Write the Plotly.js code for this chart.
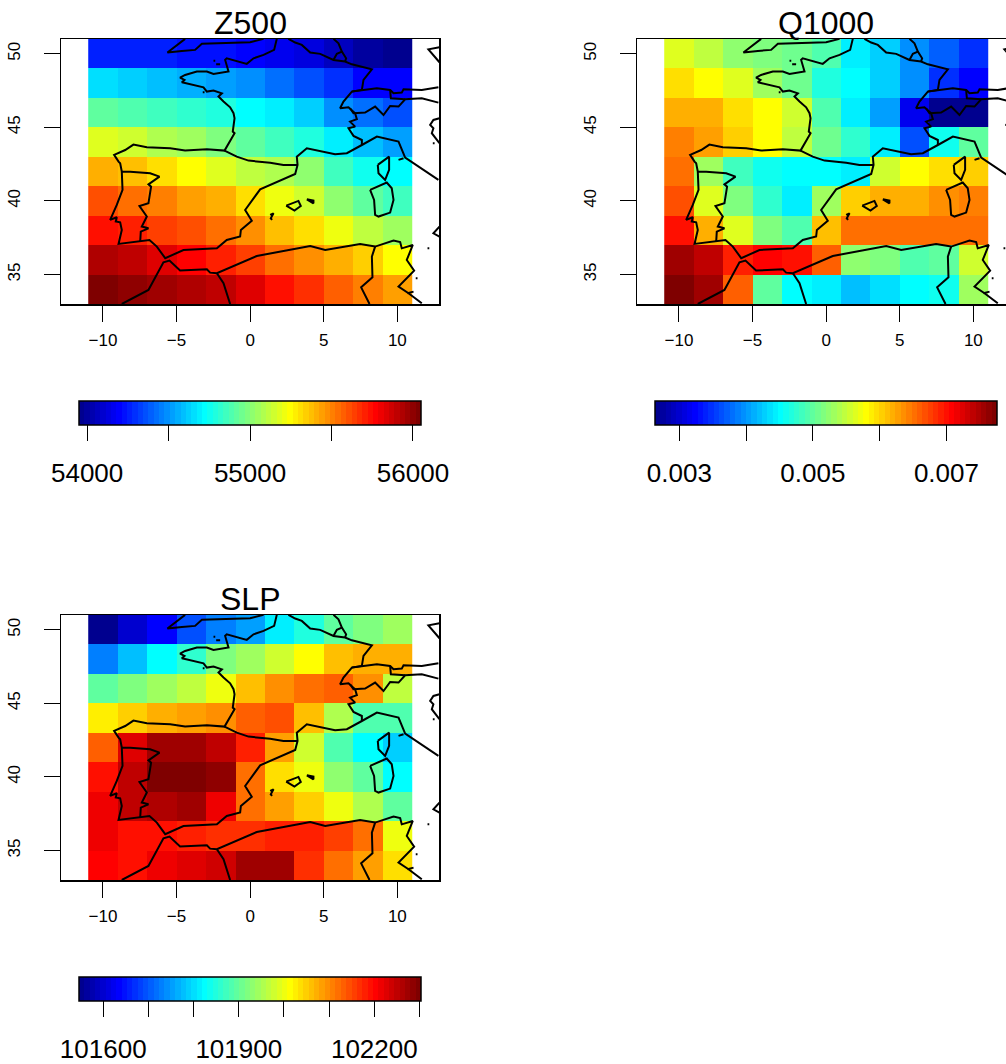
<!DOCTYPE html>
<html><head><meta charset="utf-8">
<script src="https://cdn.plot.ly/plotly-3.0.1.min.js"></script>
<style>html,body{margin:0;padding:0;background:#fff;overflow:hidden;width:1006px;height:1064px}#wrap{width:1006px;height:1064px;overflow:hidden}</style>
</head><body><div id="wrap"><div id="chart"></div></div>
<script>
const lons=[-10,-8,-6,-4,-2,0,2,4,6,8,10];
const lats=[50,48,46,44,42,40,38,36,34];
const z500=[
[54267,54267,54267,54246,54225,54183,54162,54141,54078,54015,53973],
[54645,54624,54582,54561,54519,54477,54414,54372,54288,54193,54193],
[54918,54886,54855,54823,54792,54722,54676,54624,54498,54435,54372],
[55184,55159,55096,55064,54981,54918,54855,54792,54697,54603,54529],
[55411,55379,55327,55247,55184,55127,55085,55012,54855,54760,54722],
[55610,55547,55505,55453,55400,55316,55211,55159,55033,54918,54855],
[55736,55694,55642,55610,55547,55463,55379,55316,55211,55127,55064],
[55946,55910,55841,55772,55694,55642,55547,55484,55411,55337,55247],
[56051,56009,55980,55925,55915,55841,55736,55673,55579,55526,55453]];
const q1000=[
[.005642,.005453,.005273,.005145,.005094,.004915,.004428,.004275,.003967,.003711,.003455],
[.005990,.005796,.005642,.005350,.005094,.004684,.004515,.004275,.003967,.003455,.003225],
[.006221,.006170,.005990,.005796,.005555,.004915,.004454,.004044,.003148,.002687,.002662],
[.006426,.006297,.006067,.005796,.005504,.005094,.004761,.004403,.003635,.004582,.004992],
[.006528,.005350,.004838,.004608,.004515,.004515,.004403,.005555,.005796,.005990,.006016],
[.006682,.005642,.005145,.004761,.004454,.005350,.006041,.006170,.006170,.006374,.006400],
[.006989,.006195,.005642,.005145,.004915,.006144,.006528,.006528,.006528,.006477,.006477],
[.007583,.007373,.006886,.007076,.006989,.006605,.005273,.005145,.004915,.004992,.005581],
[.007757,.007578,.006579,.004992,.004515,.004403,.004172,.004326,.004515,.004633,.005350]];
const slp=[
[101555,101600,101634,101695,101729,101755,101816,101850,101895,101918,101948],
[101729,101782,101825,101861,101918,101948,101979,102014,102066,102073,102077],
[101895,101918,101948,101971,102001,102066,102100,102115,102134,102100,101971],
[102024,102054,102077,102088,102100,102134,102145,102066,101960,101884,101884],
[102134,102228,102278,102278,102255,102175,102088,101979,101884,101825,101789],
[102190,102255,102304,102300,102285,102115,102043,102001,101937,101895,101825],
[102213,102255,102266,102270,102213,102122,102088,102050,102001,101960,101895],
[102221,102190,102190,102183,102168,102168,102183,102183,102156,102115,102001],
[102203,102190,102221,102228,102240,102278,102278,102168,102115,102088,102043]];
const coastLon=[-4.42,-4.98,-5.62,-4.64,-3.74,-3.28,-1.59,-1.02,0,0.91,null,
1.81,1.63,0.91,0.23,-0.23,-1.59,-1.70,-1.47,-2.49,-2.94,-3.62,-4.42,-4.76,-4.46,-4.64,-3.85,-3.17,-2.94,-2.49,-1.92,-2.15,-1.81,-1.36,-1.13,-1.06,-1.18,-1.06,-1.74,-2.94,-4.42,-5.43,-7.02,-7.93,-8.49,-9.24,-8.94,-8.83,-8.72,-8.67,-9.06,-9.51,-9.06,-9.13,-8.83,-8.72,-8.94,-7.47,-6.84,-6.34,-5.77,-4.53,-2.26,-1.59,-0.68,-0.63,0.11,-0.34,0.68,3.06,3.22,3.17,3.85,5.77,6.57,7.59,8.61,10.08,10.53,12.79,null,
-1.74,-0.91,-0.11,1.36,2.26,3.22,null,
-8.72,-8.15,-6.79,-6.16,-6.91,-6.73,-6.91,-7.52,-7.02,-7.36,-6.91,-7.43,-7.47,null,
-8.72,-6.91,-5.89,-5.48,-4.76,-2.94,-2.72,-2.26,0.45,4.08,5.10,7.47,8.49,9.74,10.19,10.30,11.05,10.64,11.14,10.08,10.76,11.66,null,
-2.26,-1.81,-1.36,null,
8.49,8.27,8.31,7.54,8.11,null,
2.60,3.06,3.51,4.08,4.76,5.66,6.45,6.91,8.27,7.70,7.59,6.91,6.34,6.11,6.68,7.13,7.25,6.79,7.13,6.68,7.02,7.59,7.59,null,
5.66,6.00,6.23,6.52,6.45,null,
6.23,5.89,5.66,null,
6.91,8.61,9.51,9.74,10.30,10.42,11.66,12.79,null,
6.79,7.02,7.81,8.49,9.06,9.51,10.08,10.53,11.66,12.79,null,
9.51,9.56,10.53,null,
8.67,9.44,9.44,9.17,8.72,8.67,null,
8.15,9.28,9.62,9.74,9.51,8.72,8.49,8.42,8.15,null,
2.45,3.28,3.44,3.01,2.45,null,
3.85,4.30,4.30,3.85,null,
1.36,1.59,1.40,1.49,null,
10.08,10.42,null,
-2.49,-2.37,null,-2.31,-2.04,null,-3.22,-3.10,null,11.25,11.37,null,12.05,12.17,null,12.41,12.53,null,
10.69,11.10,null,
12.86,12.11,12.86,null,
12.86,12.45,12.23,12.45,12.34,12.86,null,
12.86,12.45,12.86];
const coastLat=[51.01,50.60,50.08,50.19,50.26,50.67,50.71,50.76,50.78,51.01,null,
51.01,50.26,49.92,49.69,49.31,49.69,49.58,48.79,48.63,48.79,48.79,48.56,48.38,48.22,48.06,47.88,47.72,47.43,47.50,47.31,47.09,46.75,46.36,45.96,45.62,44.71,44.60,43.42,43.51,43.42,43.58,43.65,43.83,43.46,43.13,42.67,42.56,41.99,40.75,39.73,38.71,38.89,38.60,38.55,38.03,37.08,37.24,37.35,36.90,36.11,36.67,36.78,37.35,37.58,38.03,38.66,39.39,40.79,41.83,42.45,43.01,43.58,43.17,43.24,43.80,44.37,44.03,42.94,41.43,null,
43.42,43.01,42.74,42.60,42.45,42.45,null,
41.99,41.99,41.88,41.65,41.13,40.97,39.84,39.66,38.94,38.26,38.14,37.92,37.24,null,
33.0,33.95,35.83,35.95,35.27,35.36,35.13,35.09,36.26,36.94,36.67,37.08,36.90,37.31,37.21,36.78,37.01,35.99,35.27,34.18,33.73,33.05,null,
35.09,34.41,33.0,null,
36.90,36.22,34.81,34.13,33.0,null,
51.01,50.76,50.60,50.08,49.99,49.58,49.47,49.28,48.94,48.22,47.54,47.43,46.75,46.30,46.36,45.96,45.55,45.39,45.05,44.94,44.42,44.14,43.80,null,
51.01,50.71,50.14,49.69,49.47,null,
50.14,49.99,49.58,null,
47.43,47.65,47.54,47.31,47.36,47.59,47.54,47.72,null,
46.30,45.96,46.00,46.41,45.84,46.45,46.41,46.91,46.97,46.68,null,
47.54,46.97,46.91,null,
42.45,43.01,42.11,41.43,41.88,42.45,null,
40.75,41.25,40.86,40.07,39.21,38.94,39.05,40.07,40.75,null,
39.68,40.0,39.66,39.34,39.68,null,
40.11,40.02,39.84,40.11,null,
39.05,39.16,38.82,38.71,null,
42.79,42.90,null,
49.53,49.53,null,49.28,49.28,null,47.38,47.38,null,34.75,34.75,null,36.78,36.78,null,43.92,43.92,null,
33.73,33.84,null,
50.44,50.30,49.42,null,
45.62,45.50,45.16,44.94,44.60,43.92,null,
38.26,37.80,37.58];
const zTicks=[54000,54500,55000,55500,56000];
const zLabels=['54000','','55000','','56000'];
const qTicks=[.003,.004,.005,.006,.007];
const qLabels=['0.003','','0.005','','0.007'];
const sTicks=[101600,101700,101800,101900,102000,102100,102200,102300];
const sLabels=['101600','','','101900','','','102200',''];
const xTickVals=[-10,-5,0,5,10];
const yTickVals=[35,40,45,50];

const W=1030,H=1100,FONT='"Liberation Sans",Arial,sans-serif';
// 64-level jet palette
function jetStops(){
  const hex=v=>Math.max(0,Math.min(255,Math.round(v)));
  const cols=[];
  for(let i=1;i<=64;i++){
    const r=i<=24?0:i<=40?(i-24)*16-1:i<=56?255:255-(i-56)*16;
    const g=i<=8?0:i<=24?(i-8)*16-1:i<=40?255:i<=56?255-(i-40)*16:0;
    const b=i<=8?127+i*16:i<=24?255:i<=40?255-(i-24)*16:0;
    cols.push(`rgb(${hex(r)},${hex(g)},${hex(b)})`);
  }
  const s=[];
  cols.forEach((c,i)=>{s.push([i/64,c]);s.push([(i+1)/64,c]);});
  return s;
}
const scale=jetStops();
const panels=[
 {name:'Z500',z:z500,zmin:53952,zmax:56051,ticks:zTicks,labels:zLabels,left:61,top:39,barL:79.3},
 {name:'Q1000',z:q1000,zmin:.002636,zmax:.007757,ticks:qTicks,labels:qLabels,left:637,top:39,barL:655},
 {name:'SLP',z:slp,zmin:101547,zmax:102304,ticks:sTicks,labels:sLabels,left:61,top:615,barL:79.3}
];
const data=[],layout={width:W,height:H,margin:{l:0,r:0,t:0,b:0,pad:0},paper_bgcolor:'#fff',plot_bgcolor:'#fff',showlegend:false,annotations:[],font:{family:FONT,color:'#000'}};
panels.forEach((p,i)=>{
  const n=i?String(i+1):'';
  const barTop=p.top+362;
  data.push({type:'heatmap',x:lons,y:lats,z:p.z,zmin:p.zmin,zmax:p.zmax,colorscale:scale,xaxis:'x'+n,yaxis:'y'+n,zsmooth:false,hoverinfo:'skip',
    colorbar:{orientation:'h',lenmode:'pixels',len:342,thicknessmode:'pixels',thickness:24,x:p.barL/W,xanchor:'left',y:1-barTop/H,yanchor:'top',xpad:0,ypad:0,
      outlinewidth:1.5,outlinecolor:'#000',borderwidth:0,ticks:'outside',ticklen:16,tickwidth:1,tickcolor:'#000',tickmode:'array',tickvals:p.ticks,
      ticktext:p.labels,tickfont:{size:26,family:FONT,color:'#000'}}});
  data.push({type:'scatter',mode:'lines',x:coastLon,y:coastLat,xaxis:'x'+n,yaxis:'y'+n,line:{color:'#000',width:2,shape:'linear'},hoverinfo:'skip',connectgaps:false});
  const ax={showline:true,mirror:true,linecolor:'#000',linewidth:1.5,showgrid:false,zeroline:false,ticks:'outside',ticklen:16,tickwidth:1,tickcolor:'#000',tickmode:'array',tickfont:{size:17,family:FONT,color:'#000'}};
  layout['xaxis'+n]={...ax,domain:[p.left/W,(p.left+378.3)/W],range:[-12.85,12.85],tickvals:xTickVals,ticklabelstandoff:4,anchor:'y'+n};
  layout['yaxis'+n]={...ax,domain:[1-(p.top+265)/H,1-p.top/H],range:[33,51],tickvals:yTickVals,tickangle:-90,ticklabelstandoff:17,anchor:'x'+n};
  layout.annotations.push({text:p.name,xref:(i?'x'+n:'x')+' domain',yref:(i?'y'+n:'y')+' domain',x:.5,y:1,xanchor:'center',yanchor:'bottom',yshift:-4,showarrow:false,font:{size:32,family:FONT,color:'#000'}});
});
Plotly.newPlot('chart',data,layout,{staticPlot:true,displayModeBar:false}).then(()=>{
  // colour-bar labels sit lower under their ticks in the reference; colorbar has no standoff option
  document.querySelectorAll('g.colorbar text').forEach(t=>{
    if(t.textContent) t.setAttribute('transform','translate(0,10) '+(t.getAttribute('transform')||''));
  });
});
</script></body></html>
